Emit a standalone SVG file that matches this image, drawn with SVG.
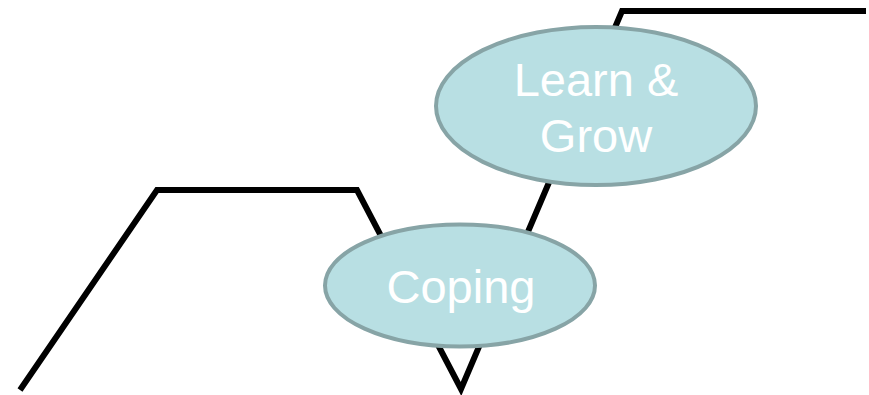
<svg xmlns="http://www.w3.org/2000/svg" width="869" height="395" viewBox="0 0 869 395">
  <style>
    .path { fill: none; stroke: #000; stroke-width: 6; stroke-linejoin: miter; stroke-miterlimit: 10; }
    .bubble { fill: #b8dfe3; stroke: #87a4a6; stroke-width: 4; }
    .label { font-family: "Liberation Sans", Arial, sans-serif; font-size: 47px; fill: #ffffff; text-anchor: middle; }
  </style>
  <rect width="869" height="395" fill="#ffffff"/>
  <g id="connectors">
    <polyline class="path" points="20,390 157,190 357,190 461,389 622,11 866,11"/>
  </g>
  <g id="coping">
    <ellipse class="bubble" cx="460" cy="285.5" rx="135" ry="61"/>
    <text class="label" x="461" y="303">Coping</text>
  </g>
  <g id="learn-grow">
    <ellipse class="bubble" cx="596" cy="106" rx="160" ry="79"/>
    <text class="label" x="596" y="96">Learn &amp;</text>
    <text class="label" x="596" y="152">Grow</text>
  </g>
</svg>
